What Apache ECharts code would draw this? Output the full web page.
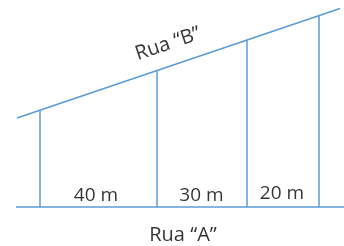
<!DOCTYPE html>
<html>
<head>
<meta charset="utf-8">
<script src="https://cdn.jsdelivr.net/npm/echarts@6/dist/echarts.min.js"></script>
<style>html,body{margin:0;padding:0;background:#fff}#c{width:344px;height:246px}</style>
</head>
<body>
<div id="c"></div>
<script>
// Diagram data (units: horizontal position along Rua A, height above Rua A)
var ruaA = [[16, 0], [344, 0]];
var ruaB = [[17, 89], [340, 198.5]];
var dividerX = [40, 157, 247, 319];
var dividerTop = [96.8, 136.5, 167, 191.4];
var segmentLabels = ['40 m', '30 m', '20 m'];
var segmentLabelPos = [[96, 11], [201.5, 11], [282, 13]];
var streetLabels = ['Rua \u201CA\u201D', 'Rua \u201CB\u201D'];
var streetLabelPos = [[183, -28], [168, 163]];
var ruaBAngle = 18.7;

var lineColor = '#5B9BD5';
var font = 'Open Sans';

var series = [];
series.push({type:'line', data:ruaA, symbol:'none', lineStyle:{color:lineColor, width:1.5}, silent:true});
series.push({type:'line', data:ruaB, symbol:'none', lineStyle:{color:lineColor, width:1.5}, silent:true});
dividerX.forEach(function(x, i){
  series.push({type:'line', data:[[x,0],[x,dividerTop[i]]], symbol:'none', lineStyle:{color:lineColor, width:1.5}, silent:true});
});
series.push({
  type:'scatter', symbolSize:0, silent:true,
  data: segmentLabels.map(function(t,i){ return {value:segmentLabelPos[i], name:t}; }),
  label:{show:true, position:'inside', formatter:'{b}', color:'#000', fontFamily:font, fontSize:19}
});
series.push({
  type:'scatter', symbolSize:0, silent:true,
  data: [
    {value:streetLabelPos[0], name:streetLabels[0]},
    {value:streetLabelPos[1], name:streetLabels[1], label:{rotate:ruaBAngle}}
  ],
  label:{show:true, position:'inside', formatter:'{b}', color:'#000', fontFamily:font, fontSize:20}
});

var chart = echarts.init(document.getElementById('c'));
chart.setOption({
  animation:false,
  grid:{left:0, right:0, top:0, bottom:0},
  xAxis:{type:'value', min:0, max:344, show:false},
  yAxis:{type:'value', min:-39, max:207, show:false},
  series:series
});
</script>
</body>
</html>
